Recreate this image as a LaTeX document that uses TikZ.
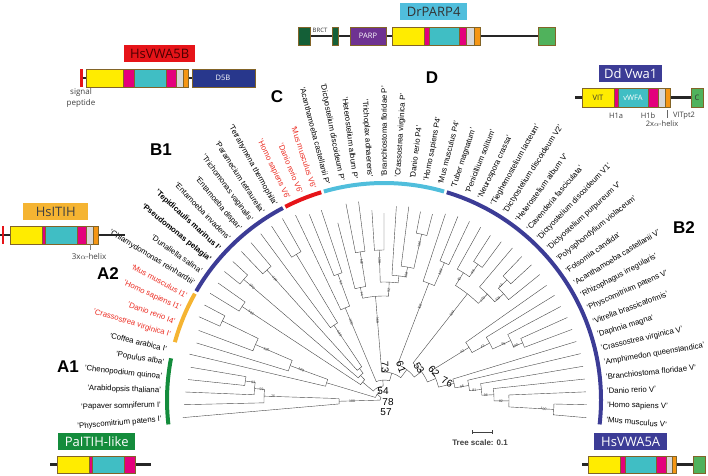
\documentclass[tikz,border=0pt]{standalone}
\usepackage{fontspec}
\setmainfont{Liberation Sans}
\newfontfamily\dfont{Open Sans}
\usetikzlibrary{positioning}

\definecolor{vitY}{RGB}{255,236,0}
\definecolor{hMag}{RGB}{228,0,124}
\definecolor{vwTeal}{RGB}{64,190,196}
\definecolor{hGray}{RGB}{215,215,215}
\definecolor{hOrng}{RGB}{245,150,20}
\definecolor{dBlue}{RGB}{40,55,140}
\definecolor{cGreen}{RGB}{80,178,92}
\definecolor{brctG}{RGB}{20,95,55}
\definecolor{parpP}{RGB}{110,50,145}
\definecolor{boxEdge}{RGB}{130,100,40}
\definecolor{clGreen}{RGB}{20,140,60}
\definecolor{clYel}{RGB}{245,180,50}
\definecolor{clBlue}{RGB}{60,60,150}
\definecolor{clRed}{RGB}{230,20,25}
\definecolor{clTeal}{RGB}{80,190,220}
\definecolor{lbRed}{RGB}{235,45,35}

% internal node: child idx 1, child idx 2, node radius, child radii
\newcommand{\nd}[5]{\draw[branch] ({3.6538*(#1)-185}:#4) -- ({3.6538*(#1)-185}:#3)
  arc[start angle={3.6538*(#1)-185}, end angle={3.6538*(#2)-185}, radius=#3]
  -- ({3.6538*(#2)-185}:#5);}
% coloured clade bar
\newcommand{\carc}[3]{\draw[clade,#1] ({3.6538*(#2)-185}:217)
  arc[start angle={3.6538*(#2)-185}, end angle={3.6538*(#3)-185}, radius=217];}
% leaf label
\newcommand{\lf}[3][]{\pgfmathsetmacro\la{185-3.6538*(#2)}%
  \ifdim\la pt>90.5pt \node[leaf,#1,anchor=east,rotate=\la-180] (lf#2) at ({-\la}:223) {'#3'};%
  \else \node[leaf,#1,anchor=west,rotate=\la] (lf#2) at ({-\la}:223) {'#3'};\fi}
% bootstrap value
\newcommand{\bs}[3]{\pgfmathsetmacro\ba{185-3.6538*(#1)}%
  \ifdim\ba pt>90pt \node[boot,rotate=\ba-180] at ({-\ba}:#2) {#3};%
  \else \node[boot,rotate=\ba] at ({-\ba}:#2) {#3};\fi}
% protein domain box
\newcommand{\dm}[5]{\draw[dom,fill=#5] (#1,#3) rectangle (#2,#4);}

\begin{document}
\begin{tikzpicture}[x=1pt,y=-1pt,
    branch/.style={draw=black!72,line width=0.4pt},
    leaf/.style={font=\fontsize{7.8}{8}\selectfont,inner sep=0pt},
    lbred/.style={text=lbRed},
    bold/.style={font=\fontsize{7.8}{8}\selectfont\bfseries},
    boot/.style={font=\fontsize{3.5}{3.5}\selectfont,inner sep=0.3pt,text=black!80},
    backnum/.style={font=\fontsize{10}{10}\selectfont,inner sep=0pt},
    clade/.style={line width=4pt},
    clname/.style={font=\fontsize{17}{17}\selectfont\bfseries},
    dom/.style={draw=boxEdge,line width=0.4pt},
    link/.style={line width=2.6pt,draw=black!85},
    tag/.style={font=\dfont\fontsize{13}{13}\selectfont,inner sep=0pt,
                minimum height=17pt,anchor=north west},
    small/.style={font=\dfont\fontsize{7.5}{8}\selectfont,inner sep=0pt}]
  \useasboundingbox (0,0) rectangle (708,475);

  \begin{scope}[shift={(384,400)}]
    % A1
    \nd{3}{4}{140}{197}{196}
    \nd{2}{3.5}{130}{199}{140}
    \nd{1}{2.75}{120}{200}{130}
    \nd{0}{1.875}{45}{202}{120}
    % Coffea and A2
    \nd{8}{9}{180}{203}{203}
    \nd{7}{8.5}{140}{198}{180}
    \nd{6}{7.75}{100}{196}{140}
    \nd{5}{6.875}{60}{200}{100}
    % B1
    \nd{10}{11}{170}{204}{203}
    \nd{12}{13}{185}{205}{205}
    \nd{14}{15}{175}{206}{206}
    \nd{17}{18}{170}{207}{208}
    \nd{16}{17.5}{90}{207}{170}
    \nd{14.5}{16.75}{40}{175}{90}
    \nd{12.5}{15.625}{34}{185}{40}
    \nd{10.5}{14.0625}{28}{170}{34}
    % C
    \nd{20}{21}{134}{200}{200}
    \nd{19}{20.5}{100}{205}{134}
    % D
    \nd{23}{24}{150}{200}{200}
    \nd{22}{23.5}{115}{183}{150}
    \nd{25}{26}{150}{190}{187}
    \nd{29}{30}{170}{192}{192}
    \nd{28}{29.5}{135}{195}{170}
    \nd{27}{28.75}{125}{194}{135}
    \nd{25.5}{27.875}{118}{150}{125}
    \nd{22.75}{26.6875}{104}{115}{118}
    % B2
    \nd{32}{33}{150}{198}{198}
    \nd{31}{32.5}{125}{196}{150}
    \nd{35}{36}{165}{196}{197}
    \nd{34}{35.5}{150}{198}{165}
    \nd{38}{39}{172}{199}{200}
    \nd{38.5}{40}{160}{172}{200}
    \nd{37}{39.25}{148}{199}{160}
    \nd{34.75}{38.125}{135}{150}{148}
    \nd{51}{52}{170}{203}{203}
    \nd{50}{51.5}{125}{202}{170}
    \nd{49}{50.75}{110}{202}{125}
    \nd{48}{49.875}{98}{202}{110}
    \nd{47}{48.9375}{86}{202}{98}
    \nd{46}{47.96875}{72}{201}{86}
    \nd{44}{45}{150}{201}{201}
    \nd{43}{44.5}{140}{200}{150}
    \nd{42}{43.75}{120}{200}{140}
    \nd{41}{42.875}{100}{199}{120}
    % backbone
    \nd{41.9375}{46.984375}{56}{100}{72}
    \nd{36.4375}{44.4609}{47}{135}{56}
    \nd{31.75}{40.449}{38}{125}{47}
    \nd{24.71875}{36.0996}{28}{104}{38}
    \nd{19.75}{30.409}{20}{100}{28}
    \nd{12.28125}{25.08}{14}{28}{20}
    \nd{5.9375}{18.68}{9}{60}{14}
    \nd{0.9375}{12.31}{4}{45}{9}

    % bootstrap values
    \bs{3.5}{132}{93} \bs{2.75}{123}{59} \bs{1.875}{111}{75} \bs{0.9375}{32}{100}
    \bs{7.75}{128}{100} \bs{6.875}{88}{100}
    \bs{16.75}{80}{100} \bs{14.5}{163}{100} \bs{12.5}{174}{100} \bs{10.5}{159}{100}
    \bs{20.5}{125}{51} \bs{19.75}{85}{100}
    \bs{23.5}{140}{100} \bs{22.75}{108}{74} \bs{25.5}{140}{100} \bs{29.5}{160}{100}
    \bs{28.75}{127}{100} \bs{26.6875}{110}{92} \bs{24.71875}{80}{100}
    \bs{32.5}{140}{100} \bs{31.75}{100}{100} \bs{35.5}{156}{99} \bs{34.75}{142}{40}
    \bs{38.5}{163}{42} \bs{39.25}{152}{100} \bs{38.125}{141}{100} \bs{36.4375}{110}{100}
    \bs{51.5}{160}{100} \bs{50.75}{117}{82} \bs{49.875}{102}{98} \bs{48.9375}{91}{81}
    \bs{47.96875}{79}{96} \bs{44.5}{142}{100} \bs{43.75}{132}{86} \bs{42.875}{112}{43}
    \bs{41.9375}{92}{42}

    % clade bars
    \carc{clGreen}{-0.4}{4.4}
    \carc{clYel}{5.6}{9.4}
    \carc{clBlue}{9.6}{18.4}
    \carc{clRed}{18.6}{21.4}
    \carc{clTeal}{21.6}{30.4}
    \carc{clBlue}{30.6}{52.4}

    % leaves
    \lf{0}{Physcomitrium patens I}
    \lf{1}{Papaver somniferum I}
    \lf{2}{Arabidopsis thaliana}
    \lf{3}{Chenopodium quinoa}
    \lf{4}{Populus alba}
    \lf{5}{Coffea arabica I}
    \lf[lbred]{6}{Crassostrea virginica I}
    \lf[lbred]{7}{Danio rerio I4}
    \lf[lbred]{8}{Homo sapiens I1}
    \lf[lbred]{9}{Mus musculus I1}
    \lf{10}{Chlamydomonas reinhardtii}
    \lf{11}{Dunaliella salina}
    \lf[bold]{12}{Pseudomonas pelagia}
    \lf[bold]{13}{Tepidicaulis marinus I}
    \lf{14}{Entamoeba invadens}
    \lf{15}{Entamoeba dispar}
    \lf{16}{Trichomonas vaginalis}
    \lf{17}{Paramecium tetraurelia}
    \lf{18}{Tetrahymena thermophila}
    \lf[lbred]{19}{Homo sapiens V6}
    \lf[lbred]{20}{Danio rerio V6}
    \lf[lbred]{21}{Mus musculus V6}
    \lf{22}{Acanthamoeba castellanii P}
    \lf{23}{Dictyostelium discoideum P}
    \lf{24}{Heterostelium album P}
    \lf{25}{Trichoplax adhaerens}
    \lf{26}{Branchiostoma floridae P}
    \lf{27}{Crassostrea virginica P}
    \lf{28}{Danio rerio P4}
    \lf{29}{Homo sapiens P4}
    \lf{30}{Mus musculus P4}
    \lf{31}{Tuber magnatum}
    \lf{32}{Penicillium solitum}
    \lf{33}{Neurospora crassa}
    \lf{34}{Tieghemostelium lacteum}
    \lf{35}{Dictyostelium discoideum V2}
    \lf{36}{Heterostelium album V}
    \lf{37}{Cavenderia fasciculata}
    \lf{38}{Dictyostelium discoideum V1}
    \lf{39}{Dictyostelium purpureum V}
    \lf{40}{Polysphondylium violaceum}
    \lf{41}{Folsomia candida}
    \lf{42}{Acanthamoeba castellanii V}
    \lf{43}{Rhizophagus irregularis}
    \lf{44}{Physcomitrium patens V}
    \lf{45}{Vitrella brassicaformis}
    \lf{46}{Daphnia magna}
    \lf{47}{Crassostrea virginica V}
    \lf{48}{Amphimedon queenslandica}
    \lf{49}{Branchiostoma floridae V}
    \lf{50}{Danio rerio V}
    \lf{51}{Homo sapiens V}
    \lf{52}{Mus musculus V}
  \end{scope}

  % backbone support values
  \node[backnum] (n54) at (383,391) {54};
  \node[backnum] (n78) at (388,402) {78};
  \node[backnum] (n57) at (386,412) {57};
  \node[backnum,rotate=-88] (n73) at (385,367) {73};
  \node[backnum,rotate=-70] (n61) at (401,367) {61};
  \node[backnum,rotate=-58] (n53) at (419,368) {53};
  \node[backnum,rotate=-48] (n62) at (434,371) {62};
  \node[backnum,rotate=-25] (n76) at (447,382) {76};

  % clade names
  \node[clname] (A1) at (68,367) {A1};
  \node[clname] (A2) at (108,274) {A2};
  \node[clname] (B1) at (161,150) {B1};
  \node[clname] (C) at (277,97) {C};
  \node[clname] (D) at (432,78) {D};
  \node[clname] (B2) at (684,228) {B2};

  % scale bar
  \draw[black!75,line width=0.6pt] (472,432) -- (492,432)
    (472,430) -- (472,434) (492,430) -- (492,434);
  \node[font=\fontsize{8}{8}\selectfont\bfseries,text=black!75] (scale) at (480,443) {Tree scale: 0.1};

  % HsVWA5B
  \node[tag,fill=clRed,text=black!70!red,minimum width=71pt] (t5b) at (124,45) {HsVWA5B};
  \fill[clRed] (80,69) rectangle (82.5,87);
  \draw[link] (82.5,78) -- (86,78) (188,78) -- (192,78);
  \dm{86}{123}{69}{87}{vitY} \dm{123}{134}{69}{87}{hMag} \dm{134}{166}{69}{87}{vwTeal}
  \dm{166}{176}{69}{87}{hMag} \dm{176}{183}{69}{87}{hGray} \dm{183}{188}{69}{87}{hOrng}
  \dm{192}{255}{69}{87}{dBlue}
  \node[small,text=white] (d5b) at (223,78) {D5B};
  \node[small,align=center,text=black!75,font=\dfont\fontsize{8}{11}\selectfont] (sp) at (81,98) {signal\\peptide};

  % HsITIH
  \node[tag,fill=clYel,text=black!75,minimum width=65pt] (tit) at (23,203) {HsITIH};
  \draw[link] (0,235) -- (10,235) (98,235) -- (125,235);
  \fill[clRed] (1.5,226) rectangle (3.5,244);
  \dm{10}{42}{226}{244}{vitY} \dm{42}{45}{226}{244}{hMag} \dm{45}{77}{226}{244}{vwTeal}
  \dm{77}{86}{226}{244}{hMag} \dm{86}{93}{226}{244}{hGray} \dm{93}{98}{226}{244}{hOrng}
  \draw[black!50,line width=0.4pt] (90,244) -- (90,250);
  \node[small,text=black!75,font=\dfont\fontsize{8}{8}\selectfont] (h3) at (89,256) {3x$\alpha$-helix};

  % PaITIH-like
  \node[tag,fill=clGreen,text=white,minimum width=77pt] (tpa) at (58,433) {PaITIH-like};
  \draw[link] (50,464.5) -- (57,464.5) (135,464.5) -- (151,464.5);
  \dm{57}{89}{456}{473}{vitY} \dm{89}{92}{456}{473}{hMag} \dm{92}{124}{456}{473}{vwTeal}
  \dm{124}{135}{456}{473}{hMag}

  % DrPARP4
  \node[tag,fill=clTeal,text=black!80,minimum width=67pt] (tp4) at (400,3) {DrPARP4};
  \draw[link] (310,36) -- (332,36) (338,36) -- (350,36) (386,36) -- (392,36) (480,36) -- (538,36);
  \dm{298}{310}{27}{45}{brctG} \dm{332}{338}{27}{45}{brctG}
  \dm{350}{386}{27}{45}{parpP}
  \node[small,text=white] (parp) at (368,36) {PARP};
  \node[small,text=black!80,font=\dfont\fontsize{6}{6}\selectfont] (brct) at (320,30) {BRCT};
  \dm{392}{424}{27}{45}{vitY} \dm{424}{429}{27}{45}{hMag} \dm{429}{459}{27}{45}{vwTeal}
  \dm{459}{466}{27}{45}{hMag} \dm{466}{474}{27}{45}{hGray} \dm{474}{480}{27}{45}{hOrng}
  \dm{538}{555}{27}{45}{cGreen}

  % Dd Vwa1
  \node[tag,fill=clBlue,text=white,minimum width=63pt] (tdd) at (599,65) {Dd Vwa1};
  \draw[link] (575,97.5) -- (582,97.5) (670,97.5) -- (691,97.5);
  \dm{582}{614}{88}{107}{vitY} \dm{614}{618}{88}{107}{hMag} \dm{618}{648}{88}{107}{vwTeal}
  \dm{648}{658}{88}{107}{hMag} \dm{658}{665}{88}{107}{hGray} \dm{665}{670}{88}{107}{hOrng}
  \dm{691}{703}{88}{107}{cGreen}
  \node[small,text=black!80] (vit) at (598,97.5) {VIT};
  \node[small,text=white] (vwfa) at (633,97.5) {vWFA};
  \node[small,text=black!80] (cc) at (697,97.5) {C};
  \node[small,text=black!75] (h1a) at (616,116) {H1a};
  \node[small,text=black!75] (h1b) at (648,116) {H1b};
  \draw[black!60,line width=0.4pt] (667,110) -- (667,118);
  \node[small,text=black!75] (vpt) at (684,116) {VITpt2};
  \node[small,text=black!75] (h2) at (662,124) {2x$\alpha$-helix};

  % HsVWA5A
  \node[tag,fill=clBlue,text=white,minimum width=73pt] (t5a) at (594,433) {HsVWA5A};
  \draw[link] (582,464.5) -- (588,464.5) (676,464.5) -- (693,464.5);
  \dm{588}{620}{456}{473}{vitY} \dm{620}{625}{456}{473}{hMag} \dm{625}{656}{456}{473}{vwTeal}
  \dm{656}{666}{456}{473}{hMag} \dm{666}{672}{456}{473}{hGray} \dm{672}{676}{456}{473}{hOrng}
  \dm{693}{705}{456}{473}{cGreen}
\end{tikzpicture}
\end{document}
